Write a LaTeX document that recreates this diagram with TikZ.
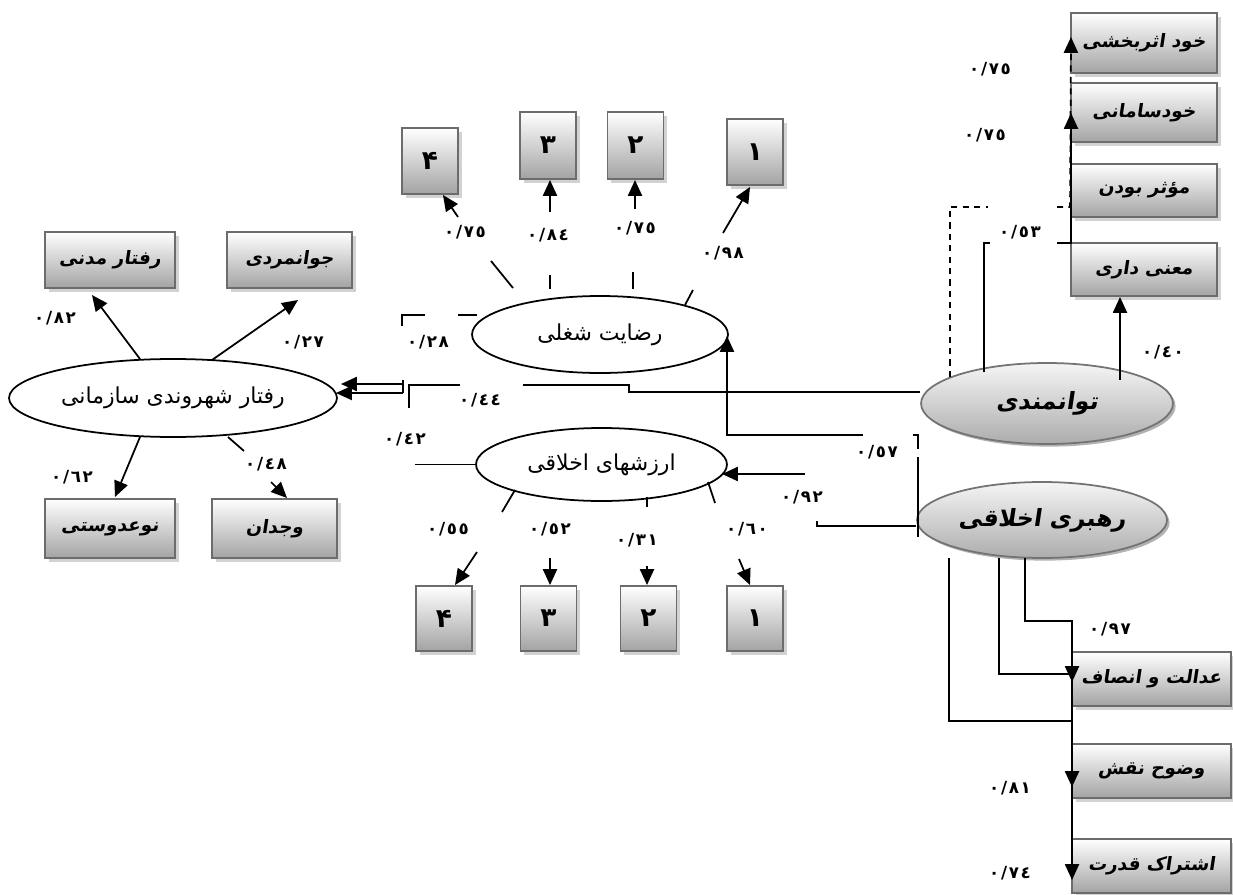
\documentclass[tikz,border=0pt]{standalone}
\usepackage{fontspec}
\newfontfamily\fafont[Script=Arabic]{DejaVu Sans}
\newfontfamily\fabf[Script=Arabic,FakeSlant=0.15]{DejaVu Sans Bold}
\newfontfamily\fanum[Script=Arabic,LetterSpace=10]{DejaVu Sans Bold}
\TeXXeTstate=1
\usetikzlibrary{arrows.meta,shapes.geometric,shadows}

\tikzset{
  oval/.style={ellipse,draw,line width=1pt,inner sep=0pt,font=\fafont\fontsize{12.5}{14}\selectfont},
  grayoval/.style={ellipse,draw=gray!90!black,line width=1pt,inner sep=0pt,top color=gray!8,bottom color=gray!65,
    drop shadow={shadow xshift=1.5pt,shadow yshift=-1.5pt,fill=gray!60,opacity=1},font=\fabf\fontsize{13.5}{15}\selectfont},
  ind/.style={rectangle,draw=gray!85!black,line width=1.1pt,inner sep=0pt,top color=white,bottom color=gray!72,
    drop shadow={shadow xshift=2pt,shadow yshift=-2pt,fill=gray!35,opacity=1},font=\fabf\fontsize{10.5}{12}\selectfont},
  numbox/.style={ind,minimum width=1.12cm,minimum height=1.32cm,font=\fanum\fontsize{15}{17}\selectfont},
  coef/.style={inner sep=1pt,font=\fanum\fontsize{9.5}{11}\selectfont},
  arr/.style={-{Triangle[length=9pt,width=8pt]}},
  dashline/.style={dash pattern=on 3.5pt off 3pt}
}

\begin{document}
\begin{tikzpicture}[x=0.02cm,y=-0.02cm,line width=1pt]
\useasboundingbox (0,0) rectangle (1233,895);

% latent variables
\node[oval,minimum width=6.56cm,minimum height=1.56cm] (ocb) at (173,398) {\beginR رفتار شهروندی سازمانی\endR};
\node[oval,minimum width=5.12cm,minimum height=1.54cm] (js) at (600,334.5) {\beginR رضایت شغلی\endR};
\node[oval,minimum width=5.02cm,minimum height=1.46cm] (ev) at (601.5,464.5) {\beginR ارزشهای اخلاقی\endR};
\node[grayoval,minimum width=5.04cm,minimum height=1.62cm] (emp) at (1047,403.5) {\beginR توانمندی\endR};
\node[grayoval,minimum width=5.0cm,minimum height=1.52cm] (el) at (1042,520) {\beginR رهبری اخلاقی\endR};

% indicators of ocb
\node[ind,minimum width=2.6cm,minimum height=1.12cm] (civ) at (110,260) {\beginR رفتار مدنی\endR};
\node[ind,minimum width=2.5cm,minimum height=1.12cm] (spo) at (289.5,260) {\beginR جوانمردی\endR};
\node[ind,minimum width=2.6cm,minimum height=1.18cm] (alt) at (110,528.5) {\beginR نوعدوستی\endR};
\node[ind,minimum width=2.5cm,minimum height=1.18cm] (con) at (274.5,528.5) {\beginR وجدان\endR};

% items of js and ev
\node[numbox] (js4) at (430,161) {۴};
\node[numbox,minimum height=1.34cm] (js3) at (548,145.5) {۳};
\node[numbox,minimum height=1.34cm] (js2) at (635.5,145.5) {۲};
\node[numbox] (js1) at (755,152) {۱};
\node[numbox,minimum height=1.3cm] (ev4) at (444,618.5) {۴};
\node[numbox,minimum height=1.3cm] (ev3) at (548.5,618.5) {۳};
\node[numbox,minimum height=1.3cm] (ev2) at (648.5,618.5) {۲};
\node[numbox,minimum height=1.3cm] (ev1) at (755,618.5) {۱};

% indicators of emp and el
\node[ind,minimum width=2.92cm,minimum height=1.2cm] (se) at (1144,43) {\beginR خود اثربخشی\endR};
\node[ind,minimum width=2.92cm,minimum height=1.18cm] (sd) at (1144,112.5) {\beginR خودسامانی\endR};
\node[ind,minimum width=2.92cm,minimum height=1.06cm] (imp) at (1144,190.5) {\beginR مؤثر بودن\endR};
\node[ind,minimum width=2.92cm,minimum height=1.06cm] (mea) at (1144,269.5) {\beginR معنی داری\endR};
\node[ind,minimum width=3.18cm,minimum height=1.08cm] (fair) at (1151.5,679) {\beginR عدالت و انصاف\endR};
\node[ind,minimum width=3.18cm,minimum height=1.08cm] (role) at (1151.5,771) {\beginR وضوح نقش\endR};
\node[ind,minimum width=3.18cm,minimum height=1.08cm] (pow) at (1151.5,866) {\beginR اشتراک قدرت\endR};

% ocb arrows
\draw[arr] (140,359) -- (92,295);
\draw[arr] (212,360) -- (298,300);
\draw[arr] (140,437) -- (115,497);
\draw (228,437) -- (244,451);
\draw[arr] (271,482) -- (287,498);
\draw (403,380) -- (403,393);
\draw[arr] (403,384) -- (341,384);
\draw[arr] (403,393) -- (336,393);
\draw (425,315) -- (402,315) -- (402,326);
\draw (458,315) -- (477,315);
\draw (emp.west |- 0,392) -- (629,392) -- (629,385) -- (523,385);
\draw (460,385) -- (409,385) -- (409,408);
\draw (ev.west) -- ++(-60,0);

% js items
\draw (513,288) -- (491,261);  \draw[arr] (458,217) -- (443,195);
\draw (550,289) -- (550,275);  \draw[arr] (550,212) -- (550,180);
\draw (633,289) -- (633,272);  \draw[arr] (635,209) -- (635,180);
\draw (685,305) -- (693,290);  \draw[arr] (723,233) -- (750,187);

% ev items
\draw (515,490) -- (502,512);  \draw[arr] (477,552) -- (455,585);
\draw[arr] (550,558) -- (550,585);
\draw (647,497) -- (647,507);  \draw[arr] (647,566) -- (647,585);
\draw (708,482) -- (715,503);  \draw[arr] (739,559) -- (750,585);

% el to js and ev
\draw[arr] (863,435) -- (727,435) -- (727,336);
\draw (913,435) -- (918,435) -- (918,449);
\draw (918,457) -- (918,537);
\draw[arr] (805,474) -- (722,474);
\draw (817,521) -- (817,526) -- (el.west |- 0,526);

% emp items
\draw[dashline] (950,377) -- (950,207) -- (988,207);
\draw[dashline,arr] (1057,207) -- (se.west |- 0,207) -- (1071,37);
\draw (984,372) -- (984,243) -- (990,243);
\draw[arr] (1057,243) -- (1071,243) -- (1071,113);
\draw[arr] (1120,380) -- (1120,297);

% el items
\draw[arr] (1025,558) -- (1025,621) -- (1072,621) -- (1072,682);
\draw[arr] (999,558) -- (999,674) -- (1072,674) -- (1072,787);
\draw[arr] (949,558) -- (949,721) -- (1072,721) -- (1072,880);

% coefficients
\node[coef] at (55,318) {٠/٨٢};
\node[coef] at (303,342) {٠/٢٧};
\node[coef] at (72,477) {٠/٦٢};
\node[coef] at (266,464) {٠/٤٨};
\node[coef] at (428,342) {٠/٢٨};
\node[coef] at (480,400) {٠/٤٤};
\node[coef] at (405,439) {٠/٤٢};
\node[coef] at (465,232) {٠/٧٥};
\node[coef] at (548,235) {٠/٨٤};
\node[coef] at (635,228) {٠/٧٥};
\node[coef] at (723,253) {٠/٩٨};
\node[coef] at (448,529) {٠/٥٥};
\node[coef] at (550,529) {٠/٥٢};
\node[coef] at (637,540) {٠/٣١};
\node[coef] at (747,529) {٠/٦٠};
\node[coef] at (877,452) {٠/٥٧};
\node[coef] at (802,497) {٠/٩٢};
\node[coef] at (990,69) {٠/٧٥};
\node[coef] at (985,135) {٠/٧٥};
\node[coef] at (1020,232) {٠/٥٣};
\node[coef] at (1163,352) {٠/٤٠};
\node[coef] at (1110,629) {٠/٩٧};
\node[coef] at (1010,788) {٠/٨١};
\node[coef] at (1010,873) {٠/٧٤};
\end{tikzpicture}
\end{document}
